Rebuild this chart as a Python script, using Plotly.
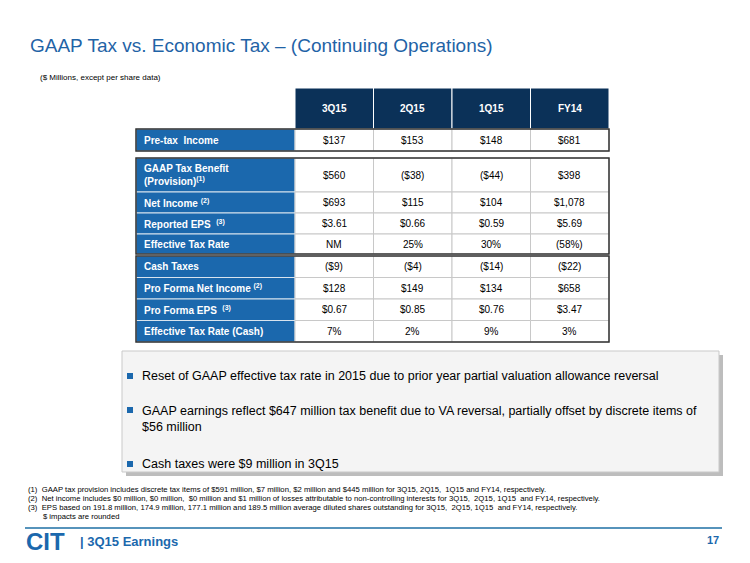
import plotly.graph_objects as go

periods = ["3Q15", "2Q15", "1Q15", "FY14"]
row_labels = [
    ["Pre-tax  Income"],
    ["GAAP Tax Benefit<br>(Provision)<sup>(1)</sup>", "Net Income <sup>(2)</sup>", "Reported EPS  <sup>(3)</sup>", "Effective Tax Rate"],
    ["Cash Taxes", "Pro Forma Net Income <sup>(2)</sup>", "Pro Forma EPS  <sup>(3)</sup>", "Effective Tax Rate (Cash)"],
]
row_values = [
    [["$137", "$153", "$148", "$681"]],
    [["$560", "($38)", "($44)", "$398"],
     ["$693", "$115", "$104", "$1,078"],
     ["$3.61", "$0.66", "$0.59", "$5.69"],
     ["NM", "25%", "30%", "(58%)"]],
    [["($9)", "($4)", "($14)", "($22)"],
     ["$128", "$149", "$134", "$658"],
     ["$0.67", "$0.85", "$0.76", "$3.47"],
     ["7%", "2%", "9%", "3%"]],
]
bullets = [
    "Reset of GAAP effective tax rate in 2015 due to prior year partial valuation allowance reversal",
    "GAAP earnings reflect $647 million tax benefit due to VA reversal, partially offset by discrete items of<br>$56 million",
    "Cash taxes were $9 million in 3Q15",
]
footnotes = [
    "(1)  GAAP tax provision includes discrete tax items of $591 million, $7 million, $2 million and $445 million for 3Q15, 2Q15,  1Q15 and FY14, respectively.",
    "(2)  Net income includes $0 million, $0 million,  $0 million and $1 million of losses attributable to non-controlling interests for 3Q15,  2Q15, 1Q15  and FY14, respectively.",
    "(3)  EPS based on 191.8 million, 174.9 million, 177.1 million and 189.5 million average diluted shares outstanding for 3Q15,  2Q15, 1Q15  and FY14, respectively.",
    "       $ impacts are rounded",
]

NAVY = "#0b3158"
BLUE = "#1b68ad"
TITLE = "#1f63a6"
F = "Liberation Sans, Arial"

shapes, ann = [], []
def rect(x0, y0, x1, y1, fill, line="rgba(0,0,0,0)", w=1):
    shapes.append(dict(type="rect", x0=x0, y0=y0, x1=x1, y1=y1, fillcolor=fill,
                       line=dict(color=line, width=w), layer="above"))
def text(x, y, t, size=10, color="black", anchor="center", bold=False, va="middle"):
    if bold:
        t = "<b>" + t.replace("<br>", "</b><br><b>") + "</b>"
    ann.append(dict(x=x, y=y, text=t, showarrow=False, xanchor=anchor, yanchor=va,
                    align="left" if anchor == "left" else "center",
                    font=dict(family=F, size=size, color=color)))

text(28, 45, "GAAP Tax vs. Economic Tax – (Continuing Operations)", 19, TITLE, "left")
text(38, 77, "($ Millions, except per share data)", 8, "black", "left")

lx0, lx1 = 136, 295
cw = 78.5
cols = [lx1 + i * cw for i in range(len(periods) + 1)]

for i, p in enumerate(periods):
    rect(cols[i], 88, cols[i + 1], 129, NAVY, "white", 1)
    text((cols[i] + cols[i + 1]) / 2, 108.5, p, 10, "white", bold=True)

group_tops = [129, 158, 256]
row_h = [[22], [34, 21, 21, 20], [21.5, 21.5, 21.5, 21.5]]
for g, labels in enumerate(row_labels):
    y = group_tops[g]
    ytop = y
    for r, lab in enumerate(labels):
        h = row_h[g][r]
        rect(lx0, y, lx1, y + h, BLUE, "#d8e4ef", 1)
        text(lx0 + 6, y + h / 2, lab, 10, "white", "left", bold=True)
        for i, v in enumerate(row_values[g][r]):
            rect(cols[i], y, cols[i + 1], y + h, "white", "#c8c8c8", 1)
            text((cols[i] + cols[i + 1]) / 2, y + h / 2, v, 10)
        y += h
    rect(lx0, ytop, cols[-1], y, "rgba(0,0,0,0)", "#333333", 1.5)

rect(126, 355, 723, 476, "#bdbdbd")
rect(122, 351, 719, 472, "#f4f4f4", "#c9c9c9", 1)
by = [376, 410, 464]
for b, yy in zip(bullets, by):
    rect(127, yy - 3, 133, yy + 3, BLUE)
    if "<br>" in b:
        text(140, yy - 8, b, 12.5, "black", "left", va="top")
    else:
        text(140, yy, b, 12.5, "black", "left")

for i, f in enumerate(footnotes):
    text(26, 489 + i * 9.3, f, 7.7, "black", "left")

shapes.append(dict(type="line", x0=25, x1=722, y0=528, y1=528, line=dict(color="#1e6fa5", width=1.5)))
text(24, 541, "<b>CIT</b>", 24, BLUE, "left")
text(78, 541, "<b>| 3Q15 Earnings</b>", 13, BLUE, "left")
text(721, 540, "<b>17</b>", 11, BLUE, "right")

# compensate for the page's default 8px body margin
OFF = 8
fig = go.Figure()
fig.update_layout(width=750, height=563, margin=dict(l=0, r=0, t=0, b=0),
                  paper_bgcolor="white", plot_bgcolor="white",
                  xaxis=dict(range=[OFF, 750 + OFF], visible=False, fixedrange=True),
                  yaxis=dict(range=[563 + OFF, OFF], visible=False, fixedrange=True),
                  shapes=shapes, annotations=ann, showlegend=False)
fig.write_html("out.html", config={"displayModeBar": False})
